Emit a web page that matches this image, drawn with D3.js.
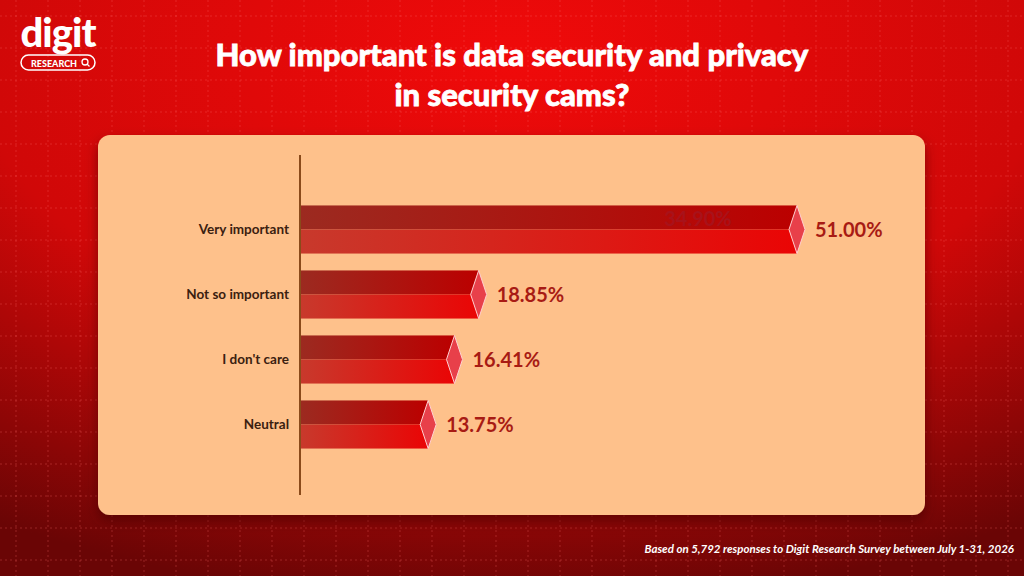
<!DOCTYPE html>
<html><head><meta charset="utf-8">
<script src="https://cdn.jsdelivr.net/npm/d3@7"></script>
<style>body{margin:0}svg{display:block}</style></head>
<body><svg id="c" width="1024" height="576"></svg>
<script>
const categories=["Very important","Not so important","I don't care","Neutral"];
const values=[51.00,18.85,16.41,13.75];
const ghostLabel="34.90%";
const svg=d3.select("#c");
const defs=svg.append("defs");
const bg=defs.append("radialGradient").attr("id","bg").attr("cx","50%").attr("cy","10%").attr("r","95%");
bg.append("stop").attr("offset","0").attr("stop-color","#f00a0a");
bg.append("stop").attr("offset","0.55").attr("stop-color","#d00808");
bg.append("stop").attr("offset","1").attr("stop-color","#6a0505");
const gt=defs.append("linearGradient").attr("id","gt");
gt.append("stop").attr("offset","0").attr("stop-color","#9c2a20");
gt.append("stop").attr("offset","1").attr("stop-color","#bb0000");
const gb=defs.append("linearGradient").attr("id","gb");
gb.append("stop").attr("offset","0").attr("stop-color","#c8392c");
gb.append("stop").attr("offset","1").attr("stop-color","#ea0505");
const sh=defs.append("filter").attr("id","sh").attr("x","-10%").attr("y","-10%").attr("width","120%").attr("height","130%");
sh.append("feDropShadow").attr("dx",0).attr("dy",6).attr("stdDeviation",6).attr("flood-color","#400").attr("flood-opacity",0.6);
svg.append("rect").attr("width",1024).attr("height",576).attr("fill","url(#bg)");
const grid=svg.append("g").attr("stroke","#ff6a6a").attr("stroke-opacity",0.3).attr("stroke-dasharray","2,3");
for(let x=16;x<1024;x+=32)grid.append("line").attr("x1",x).attr("x2",x).attr("y1",0).attr("y2",576);
for(let y=16;y<576;y+=32)grid.append("line").attr("y1",y).attr("y2",y).attr("x1",0).attr("x2",1024);
// logo
const lg=svg.append("g");
lg.append("text").attr("x",58).attr("y",47).attr("text-anchor","middle").attr("fill","#fff").attr("font-family","Lato").attr("font-weight",900).attr("font-size",40).attr("letter-spacing",-1).text("digit");
lg.append("rect").attr("x",21).attr("y",55).attr("width",74).attr("height",15).attr("rx",7.5).attr("fill","none").attr("stroke","#fff").attr("stroke-width",1.5);
lg.append("text").attr("x",54).attr("y",66.5).attr("text-anchor","middle").attr("fill","#fff").attr("font-family","Lato").attr("font-weight",900).attr("font-size",9).text("RESEARCH");
lg.append("circle").attr("cx",85).attr("cy",62).attr("r",3).attr("fill","none").attr("stroke","#fff").attr("stroke-width",1.3);
lg.append("line").attr("x1",87).attr("y1",64).attr("x2",89.5).attr("y2",66.5).attr("stroke","#fff").attr("stroke-width",1.3);
// title
const t=svg.append("text").attr("text-anchor","middle").attr("fill","#fff").attr("font-family","Lato").attr("font-weight",900).attr("font-size",31).attr("stroke","#fff").attr("stroke-width",0.8);
t.append("tspan").attr("x",512).attr("y",66).text("How important is data security and privacy");
t.append("tspan").attr("x",512).attr("y",106).text("in security cams?");
// panel
svg.append("rect").attr("x",98).attr("y",135).attr("width",827).attr("height",380).attr("rx",12).attr("fill","#fec18b").attr("filter","url(#sh)");
const x=d3.scaleLinear().domain([0,51]).range([300,805]);
const y=d3.scaleBand().domain(categories).range([197,457]).paddingInner(0.26).paddingOuter(0.13);
svg.append("line").attr("x1",300).attr("x2",300).attr("y1",155).attr("y2",495).attr("stroke","#8a4a1a").attr("stroke-width",2);
const g=svg.append("g").selectAll("g").data(categories).join("g");
g.each(function(c,i){
  const s=d3.select(this),y0=y(c),h=y.bandwidth(),xe=x(values[i]),dw=8;
  s.append("rect").attr("x",x(0)+1).attr("y",y0).attr("width",xe-dw-x(0)-1).attr("height",h/2).attr("fill","url(#gt)");
  s.append("rect").attr("x",x(0)+1).attr("y",y0+h/2).attr("width",xe-dw-x(0)-1).attr("height",h/2).attr("fill","url(#gb)");
  s.append("path").attr("d",`M${xe-dw},${y0}L${xe},${y0+h/2}L${xe-dw},${y0+h}L${xe-2*dw},${y0+h/2}Z`).attr("fill","#e8404a").attr("stroke","#ffd0d0").attr("stroke-width",1);
  s.append("text").attr("x",xe+10).attr("y",y0+h/2).attr("dy","0.36em").attr("fill","#a81b14").attr("font-family","Lato").attr("font-weight",700).attr("font-size",20).text(values[i].toFixed(2)+"%");
  s.append("text").attr("x",289).attr("y",y0+h/2).attr("dy","0.35em").attr("text-anchor","end").attr("fill","#3a2010").attr("font-family","Lato").attr("font-weight",700).attr("font-size",13.5).text(c);
  if(i===0)s.append("text").attr("x",xe-107).attr("y",y0+h/4+1).attr("dy","0.36em").attr("text-anchor","middle").attr("fill","#a8121a").attr("font-family","Lato").attr("font-weight",700).attr("font-size",20).text(ghostLabel);
});
svg.append("text").attr("x",1014).attr("y",553).attr("text-anchor","end").attr("fill","#fff").attr("font-family","Lato").attr("font-style","italic").attr("font-weight",700).attr("font-size",11.5).text("Based on 5,792 responses to Digit Research Survey between July 1-31, 2026");
</script></body></html>
